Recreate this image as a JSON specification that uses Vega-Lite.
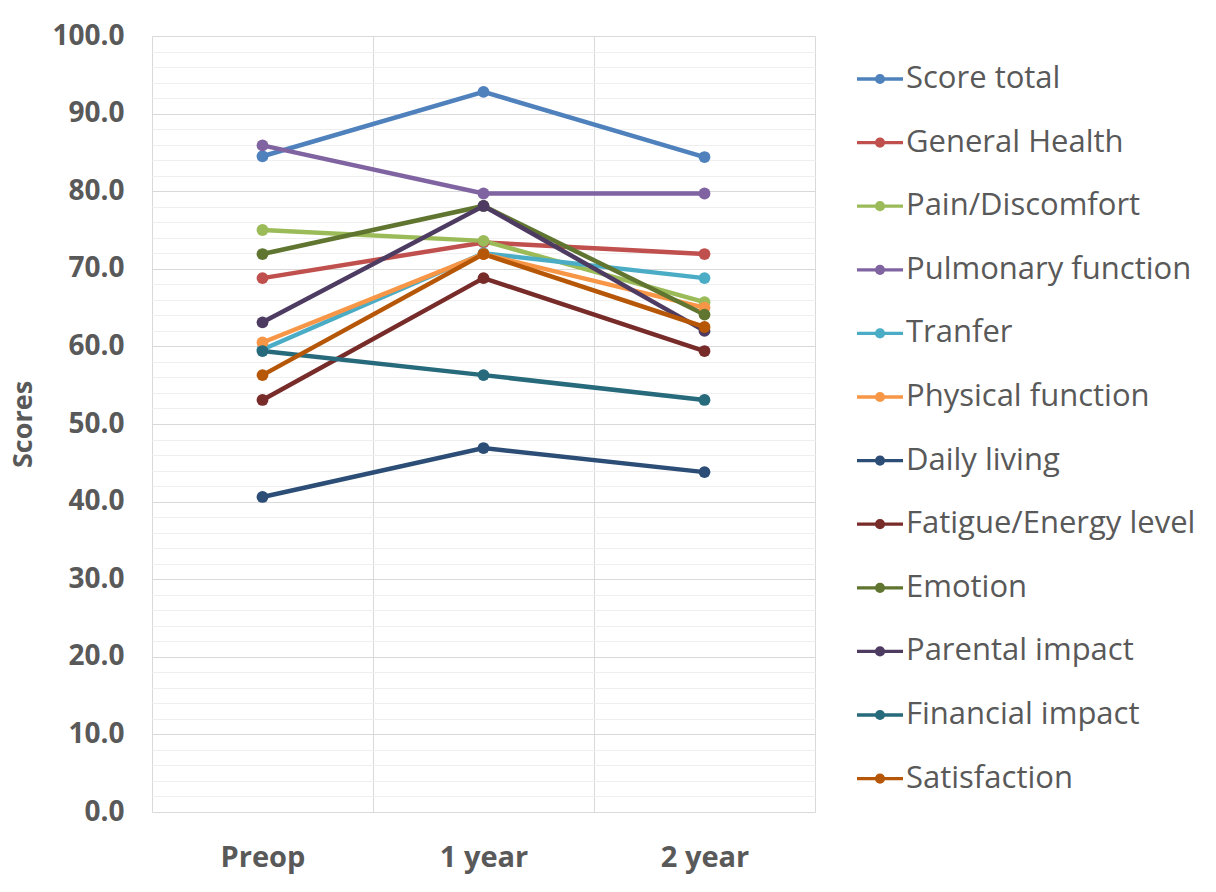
{
  "$schema": "https://vega.github.io/schema/vega-lite/v6.json",
  "width": 663,
  "height": 776,
  "autosize": "none",
  "padding": {"left": 152, "top": 36, "right": 401, "bottom": 80},
  "background": "white",
  "config": {
    "view": {"stroke": null},
    "font": "Open Sans"
  },
  "data": {
    "values": [
      {"series": "Score total", "time": "Preop", "value": 84.5},
      {"series": "Score total", "time": "1 year", "value": 92.8},
      {"series": "Score total", "time": "2 year", "value": 84.4},
      {"series": "General Health", "time": "Preop", "value": 68.8},
      {"series": "General Health", "time": "1 year", "value": 73.4},
      {"series": "General Health", "time": "2 year", "value": 71.9},
      {"series": "Pain/Discomfort", "time": "Preop", "value": 75.0},
      {"series": "Pain/Discomfort", "time": "1 year", "value": 73.6},
      {"series": "Pain/Discomfort", "time": "2 year", "value": 65.7},
      {"series": "Pulmonary function", "time": "Preop", "value": 85.9},
      {"series": "Pulmonary function", "time": "1 year", "value": 79.7},
      {"series": "Pulmonary function", "time": "2 year", "value": 79.7},
      {"series": "Tranfer", "time": "Preop", "value": 59.6},
      {"series": "Tranfer", "time": "1 year", "value": 72.0},
      {"series": "Tranfer", "time": "2 year", "value": 68.8},
      {"series": "Physical function", "time": "Preop", "value": 60.5},
      {"series": "Physical function", "time": "1 year", "value": 71.9},
      {"series": "Physical function", "time": "2 year", "value": 65.0},
      {"series": "Daily living", "time": "Preop", "value": 40.6},
      {"series": "Daily living", "time": "1 year", "value": 46.9},
      {"series": "Daily living", "time": "2 year", "value": 43.8},
      {"series": "Fatigue/Energy level", "time": "Preop", "value": 53.1},
      {"series": "Fatigue/Energy level", "time": "1 year", "value": 68.8},
      {"series": "Fatigue/Energy level", "time": "2 year", "value": 59.4},
      {"series": "Emotion", "time": "Preop", "value": 71.9},
      {"series": "Emotion", "time": "1 year", "value": 78.1},
      {"series": "Emotion", "time": "2 year", "value": 64.1},
      {"series": "Parental impact", "time": "Preop", "value": 63.1},
      {"series": "Parental impact", "time": "1 year", "value": 78.1},
      {"series": "Parental impact", "time": "2 year", "value": 62.0},
      {"series": "Financial impact", "time": "Preop", "value": 59.4},
      {"series": "Financial impact", "time": "1 year", "value": 56.3},
      {"series": "Financial impact", "time": "2 year", "value": 53.1},
      {"series": "Satisfaction", "time": "Preop", "value": 56.3},
      {"series": "Satisfaction", "time": "1 year", "value": 71.9},
      {"series": "Satisfaction", "time": "2 year", "value": 62.5}
    ]
  },
  "mark": {"type": "line", "strokeWidth": 4.5, "point": {"filled": true, "size": 140, "opacity": 1}},
  "encoding": {
    "x": {
      "field": "time",
      "type": "nominal",
      "sort": ["Preop", "1 year", "2 year"],
      "scale": {"type": "band", "paddingInner": 0, "paddingOuter": 0},
      "axis": {
        "title": null,
        "labelAngle": 0,
        "grid": true,
        "tickBand": "extent",
        "gridColor": "#d9d9d9",
        "gridWidth": 1,
        "ticks": false,
        "domain": false,
        "labelFont": "Open Sans",
        "labelFontSize": 29,
        "labelFontWeight": "bold",
        "labelColor": "#595959",
        "labelPadding": 31
      }
    },
    "y": {
      "field": "value",
      "type": "quantitative",
      "scale": {"domain": [0, 100], "nice": false, "zero": true},
      "axis": {
        "title": "Scores",
        "values": [0,2,4,6,8,10,12,14,16,18,20,22,24,26,28,30,32,34,36,38,40,42,44,46,48,50,52,54,56,58,60,62,64,66,68,70,72,74,76,78,80,82,84,86,88,90,92,94,96,98,100],
        "labelExpr": "datum.value % 10 === 0 ? format(datum.value, '.1f') : ''",
        "grid": true,
        "gridColor": {"condition": {"test": "datum.value % 10 === 0", "value": "#d9d9d9"}, "value": "#efefef"},
        "gridWidth": 1,
        "ticks": false,
        "domain": false,
        "labelFont": "Open Sans",
        "labelFontSize": 28,
        "labelFontWeight": "bold",
        "labelColor": "#595959",
        "labelPadding": 28,
        "labelOverlap": false,
        "titleFont": "Open Sans",
        "titleFontSize": 27,
        "titleFontWeight": "bold",
        "titleColor": "#595959",
        "titlePadding": 14
      }
    },
    "color": {
      "field": "series",
      "type": "nominal",
      "sort": null,
      "scale": {
        "domain": ["Score total", "General Health", "Pain/Discomfort", "Pulmonary function", "Tranfer", "Physical function", "Daily living", "Fatigue/Energy level", "Emotion", "Parental impact", "Financial impact", "Satisfaction"],
        "range": ["#4F81BD", "#C0504D", "#9BBB59", "#8064A2", "#4BACC6", "#F79646", "#2C4D75", "#772C2A", "#5F7530", "#4D3B62", "#276A7C", "#B65708"]
      },
      "legend": {
        "title": null,
        "orient": "none",
        "legendX": 703,
        "legendY": 18,
        "symbolType": "M-1,0L1,0M-0.15,0A0.15,0.15,0,1,1,0.15,0A0.15,0.15,0,1,1,-0.15,0Z",
        "symbolSize": 2116,
        "symbolStrokeWidth": 3.3,
        "labelFont": "Open Sans",
        "labelFontSize": 31,
        "labelColor": "#595959",
        "labelOffset": 1,
        "labelLimit": 400,
        "rowPadding": 23.6,
        "encode": {
          "symbols": {
            "update": {
              "fill": {"scale": "color", "field": "value"},
              "stroke": {"scale": "color", "field": "value"},
              "opacity": {"value": 1}
            }
          }
        }
      }
    }
  }
}
